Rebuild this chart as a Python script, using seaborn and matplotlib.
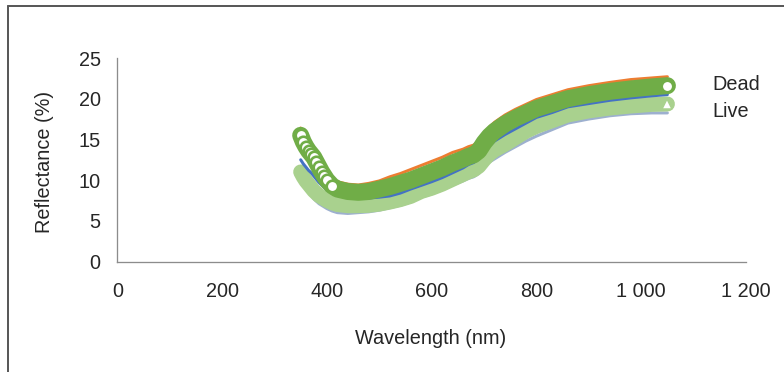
import matplotlib
matplotlib.use("Agg")
import matplotlib.pyplot as plt
from matplotlib.lines import Line2D
import seaborn as sns

# ---- data ----
wavelength = [350, 355, 360, 365, 370, 375, 380, 385, 390, 395, 400, 410, 420,
              440, 460, 480, 500, 520, 540, 560, 580, 600, 620, 640, 660, 670,
              680, 690, 700, 710, 720, 740, 760, 780, 800, 830, 860, 900, 940,
              980, 1020, 1050]

dead = [15.5, 14.7, 14.1, 13.6, 13.2, 12.8, 12.2, 11.6, 11.0, 10.5, 10.0, 9.3, 8.9,
        8.6, 8.5, 8.6, 8.9, 9.2, 9.6, 10.0, 10.5, 11.0, 11.5, 12.1, 12.6, 12.9,
        13.1, 13.6, 14.6, 15.4, 16.0, 16.9, 17.6, 18.2, 18.8, 19.4, 20.0, 20.5, 20.9,
        21.2, 21.45, 21.6]

live = [11.0, 10.4, 9.9, 9.5, 9.1, 8.7, 8.4, 8.1, 7.9, 7.7, 7.5, 7.2, 7.0,
        6.85, 6.85, 6.9, 7.05, 7.3, 7.6, 8.0, 8.6, 9.0, 9.5, 10.1, 10.7, 11.0,
        11.25, 11.7, 12.5, 13.2, 13.7, 14.4, 15.2, 16.0, 16.6, 17.3, 18.0, 18.5, 18.85,
        19.1, 19.3, 19.35]

# individual spectra visible at the band edges
spec_orange = [16.4, 15.6, 15.0, 14.5, 14.1, 13.7, 13.1, 12.5, 11.9, 11.4, 10.9, 10.2, 9.8,
               9.5, 9.4, 9.6, 9.9, 10.4, 10.8, 11.3, 11.8, 12.3, 12.8, 13.4, 13.8, 14.1,
               14.3, 14.8, 15.7, 16.5, 17.1, 18.0, 18.7, 19.3, 19.9, 20.5, 21.1, 21.6, 22.0,
               22.35, 22.55, 22.7]
spec_blue = [12.5, 12.0, 11.6, 11.2, 10.9, 10.5, 10.1, 9.7, 9.4, 9.1, 8.8, 8.4, 8.1,
             7.85, 7.8, 7.8, 7.9, 8.05, 8.4, 8.9, 9.35, 9.8, 10.3, 10.9, 11.5, 11.9,
             12.15, 12.6, 13.4, 14.2, 14.8, 15.6, 16.3, 17.0, 17.7, 18.3, 19.0, 19.4, 19.8,
             20.1, 20.35, 20.5]
spec_gray = [10.0, 9.4, 8.9, 8.5, 8.1, 7.7, 7.4, 7.1, 6.9, 6.7, 6.5, 6.2, 6.0,
             5.9, 6.0, 6.1, 6.3, 6.6, 6.9, 7.3, 7.9, 8.3, 8.8, 9.4, 9.9, 10.2,
             10.4, 10.8, 11.6, 12.2, 12.6, 13.4, 14.1, 14.8, 15.4, 16.2, 17.0, 17.5, 17.9,
             18.15, 18.25, 18.25]

series_names = ["Dead", "Live"]
x_ticks = [0, 200, 400, 600, 800, 1000, 1200]
x_tick_labels = ["0", "200", "400", "600", "800", "1 000", "1 200"]
y_ticks = [0, 5, 10, 15, 20, 25]

# ---- style ----
sns.set_style("white")
plt.rcParams["font.family"] = ["Liberation Sans", "DejaVu Sans"]
FS = 14.3
DPI = 100
px = 72.0 / DPI  # points per pixel

GREEN = "#70AD47"
LGREEN = "#A9D18E"
ORANGE = "#ED7D31"
BLUE = "#4472C4"
GRAY = "#9DB0CF"
TXT = "#262626"

fig = plt.figure(figsize=(7.84, 3.72), dpi=DPI)
ax = fig.add_axes([117.3 / 784, 1 - 261.5 / 372, (746 - 117.3) / 784, (261.5 - 58) / 372])


def band(y, color, width_px, z):
    sns.lineplot(x=wavelength, y=y, ax=ax, color=color, linewidth=width_px * px,
                 sort=False, estimator=None, zorder=z)
    ln = ax.lines[-1]
    ln.set_solid_capstyle("round")
    ln.set_solid_joinstyle("round")
    return ln


band(spec_gray, GRAY, 3, 1)
band(live, LGREEN, 15, 2)
band(spec_blue, BLUE, 3, 3)
band(spec_orange, ORANGE, 3, 3)
band(dead, GREEN, 17, 4)

# white-filled markers visible at the steep start and at the ends
idx = list(range(0, 12)) + [len(wavelength) - 1]
ax.plot([wavelength[i] for i in idx], [dead[i] for i in idx], linestyle="none",
        marker="o", markersize=11.5 * px, markerfacecolor="white",
        markeredgecolor=GREEN, markeredgewidth=2.6 * px, zorder=5)
ax.plot([wavelength[-1]], [live[-1]], linestyle="none", marker="^",
        markersize=10 * px, markerfacecolor="white", markeredgecolor=LGREEN,
        markeredgewidth=1.5 * px, zorder=5)

ax.set_xlim(0, 1200)
ax.set_ylim(0, 25)
ax.set_xticks(x_ticks)
ax.set_xticklabels(x_tick_labels)
ax.set_yticks(y_ticks)
ax.tick_params(axis="x", length=0, pad=14.5, labelsize=FS, labelcolor=TXT)
ax.tick_params(axis="y", length=0, pad=12, labelsize=FS, labelcolor=TXT)

for s in ["top", "right"]:
    ax.spines[s].set_visible(False)
for s in ["left", "bottom"]:
    ax.spines[s].set_color("#8C8C8C")
    ax.spines[s].set_linewidth(1.3 * px)

ax.set_xlabel("Wavelength (nm)", fontsize=FS, color=TXT)
ax.set_ylabel("Reflectance (%)", fontsize=FS, color=TXT)
ax.xaxis.label.set_va("center")
ax.yaxis.label.set_va("center")
ax.xaxis.set_label_coords((431 - 117.3) / (746 - 117.3), (261.5 - 338.5) / (261.5 - 58))
ax.yaxis.set_label_coords((45 - 117.3) / (746 - 117.3), (261.5 - 161.7) / (261.5 - 58))

handles = [Line2D([], [], linestyle="none", marker=None) for _ in series_names]
leg = ax.legend(handles, series_names, loc="upper left",
                bbox_to_anchor=(712.7 / 784, 1 - 75 / 372), bbox_transform=fig.transFigure,
                frameon=False, handlelength=0, handletextpad=0, borderpad=0,
                borderaxespad=0, labelspacing=0.38, fontsize=FS)
for t in leg.get_texts():
    t.set_color(TXT)

# chart-area border (partially cropped in the reference)
fig.add_artist(Line2D([8.3 / 784, 8.3 / 784], [0, 1 - 6.3 / 372],
                      transform=fig.transFigure, color="#595959", linewidth=2 * px))
fig.add_artist(Line2D([8.3 / 784, 1], [1 - 6.3 / 372, 1 - 6.3 / 372],
                      transform=fig.transFigure, color="#595959", linewidth=2 * px))

fig.savefig("out.png", dpi=DPI)
